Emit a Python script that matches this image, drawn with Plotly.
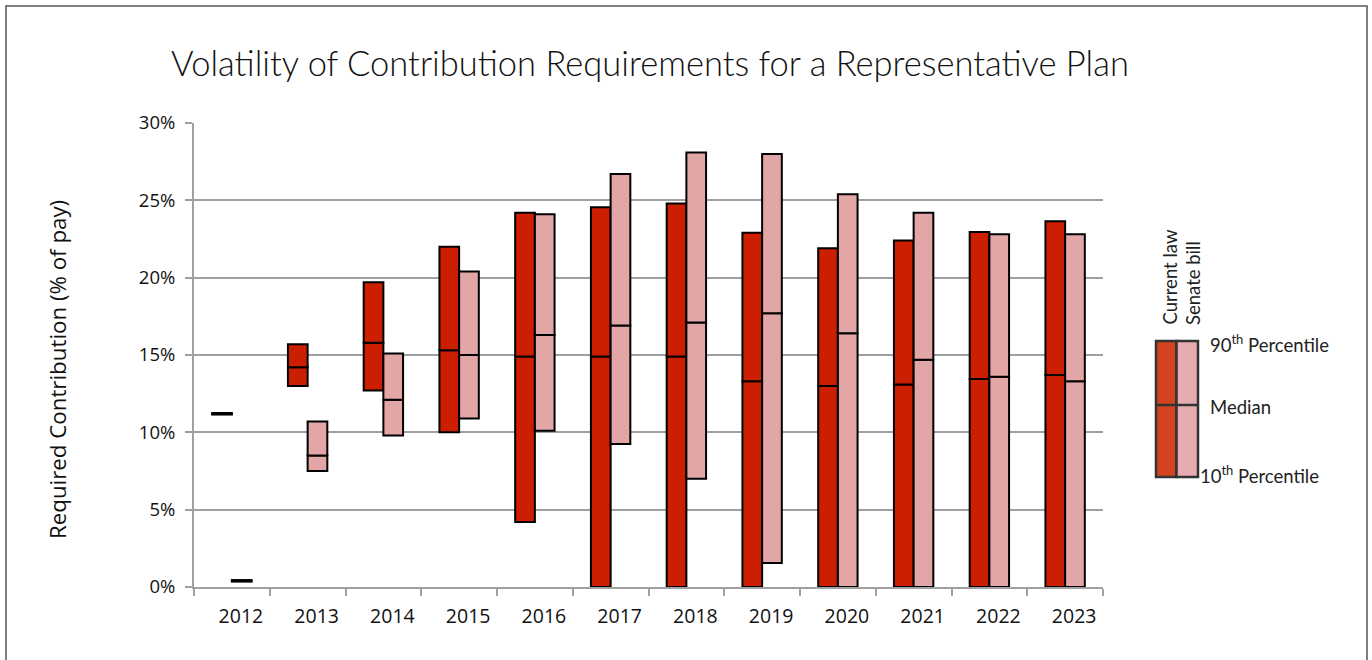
import plotly.graph_objects as go

years = ["2012", "2013", "2014", "2015", "2016", "2017", "2018", "2019", "2020", "2021", "2022", "2023"]

# Current law (percent of pay)
cl_p10 = [11.15, 13.0, 12.7, 10.0, 4.2, 0.0, 0.0, 0.0, 0.0, 0.0, 0.0, 0.0]
cl_med = [11.2, 14.2, 15.8, 15.3, 14.9, 14.9, 14.9, 13.3, 13.0, 13.1, 13.45, 13.7]
cl_p90 = [11.25, 15.7, 19.7, 22.0, 24.2, 24.55, 24.8, 22.9, 21.9, 22.4, 22.95, 23.65]

# Senate bill (percent of pay)
sb_p10 = [0.35, 7.5, 9.8, 10.9, 10.1, 9.25, 7.0, 1.55, 0.0, 0.0, 0.0, 0.0]
sb_med = [0.4, 8.5, 12.1, 15.0, 16.3, 16.9, 17.1, 17.7, 16.4, 14.7, 13.6, 13.3]
sb_p90 = [0.45, 10.7, 15.1, 20.4, 24.1, 26.7, 28.1, 28.0, 25.4, 24.2, 22.8, 22.8]

y_ticks = [0, 5, 10, 15, 20, 25, 30]
y_tick_labels = ["0%", "5%", "10%", "15%", "20%", "25%", "30%"]

RED = "#CC1E00"
PINK = "#E3A6A6"
LEG_RED = "#D4431F"
LEG_PINK = "#E6ACAF"

W, H = 1372, 660
L, R, T, B = 194, 1103, 123, 587


def px(x):
    return (x - L) / (R - L)


def py(y):
    return (B - y) / (B - T)


fig = go.Figure()


def add_series(p10, med, p90, color, group):
    fig.add_trace(go.Bar(
        x=years, y=[m - a for a, m in zip(p10, med)], base=p10,
        offsetgroup=group, marker=dict(color=color, line=dict(color="black", width=2)),
        showlegend=False, hoverinfo="skip"))
    fig.add_trace(go.Bar(
        x=years, y=[b - m for m, b in zip(med, p90)], base=med,
        offsetgroup=group, marker=dict(color=color, line=dict(color="black", width=2)),
        showlegend=False, hoverinfo="skip"))


add_series(cl_p10, cl_med, cl_p90, RED, "cl")
add_series(sb_p10, sb_med, sb_p90, PINK, "sb")

shapes = []
# outer frame
shapes.append(dict(type="rect", xref="paper", yref="paper",
                   x0=px(6), x1=px(1367), y0=py(672), y1=py(6),
                   line=dict(color="#555555", width=1.5), layer="below"))
# legend graphic
shapes.append(dict(type="rect", xref="paper", yref="paper",
                   x0=px(1156), x1=px(1176.5), y0=py(477), y1=py(341),
                   fillcolor=LEG_RED, line=dict(color="#333333", width=2.5)))
shapes.append(dict(type="rect", xref="paper", yref="paper",
                   x0=px(1176.5), x1=px(1198), y0=py(477), y1=py(341),
                   fillcolor=LEG_PINK, line=dict(color="#333333", width=2.5)))
shapes.append(dict(type="line", xref="paper", yref="paper",
                   x0=px(1156), x1=px(1198), y0=py(405), y1=py(405),
                   line=dict(color="#333333", width=2.5)))

legend_font = dict(family="Lato, sans-serif", size=18.5, color="#222222")
annotations = [
    dict(text="Volatility of Contribution Requirements for a Representative Plan",
         xref="paper", yref="paper", x=px(650), y=py(62), showarrow=False,
         xanchor="center", yanchor="middle",
         font=dict(family="Lato, sans-serif", size=34.5, color="#111111", weight=300)),
    dict(text="Required Contribution (% of pay)", xref="paper", yref="paper",
         x=px(57), y=py(370), showarrow=False, textangle=-90,
         xanchor="center", yanchor="middle",
         font=dict(family="Open Sans, sans-serif", size=22.3, color="#111111")),
    dict(text="Current law", xref="paper", yref="paper", x=px(1169), y=py(327),
         showarrow=False, textangle=-90, xanchor="center", yanchor="bottom",
         font=legend_font),
    dict(text="Senate bill", xref="paper", yref="paper", x=px(1193), y=py(327),
         showarrow=False, textangle=-90, xanchor="center", yanchor="bottom",
         font=legend_font),
    dict(text="90<sup>th</sup> Percentile", xref="paper", yref="paper", x=px(1208), y=py(343),
         showarrow=False, xanchor="left", yanchor="middle", font=legend_font),
    dict(text="Median", xref="paper", yref="paper", x=px(1208), y=py(407),
         showarrow=False, xanchor="left", yanchor="middle", font=legend_font),
    dict(text="10<sup>th</sup> Percentile", xref="paper", yref="paper", x=px(1198), y=py(474),
         showarrow=False, xanchor="left", yanchor="middle", font=legend_font),
]

fig.update_layout(
    width=W, height=H,
    margin=dict(l=L, r=W - R, t=T, b=H - B, pad=0),
    paper_bgcolor="white", plot_bgcolor="white",
    barmode="group", bargap=0.48, bargroupgap=0,
    shapes=shapes, annotations=annotations,
    font=dict(family="Open Sans, sans-serif", size=18, color="#111111"),
    showlegend=False,
)
fig.update_xaxes(
    type="category", categoryorder="array", categoryarray=years,
    showline=True, linecolor="#A0A0A0", linewidth=2,
    ticks="outside", tickson="boundaries", ticklen=7, tickwidth=2, tickcolor="#A0A0A0",
    showgrid=False, ticklabelshift=9, ticklabelstandoff=11,
    tickfont=dict(family="Open Sans, sans-serif", size=19.5, color="#111111"),
)
fig.update_yaxes(
    range=[0, 30], tickvals=y_ticks, ticktext=y_tick_labels,
    showline=True, linecolor="#A0A0A0", linewidth=2,
    ticks="outside", ticklen=7, tickwidth=2, tickcolor="#A0A0A0",
    showgrid=True, gridcolor="#A0A0A0", gridwidth=2, zeroline=False,
    ticklabelstandoff=6,
    tickfont=dict(family="Open Sans, sans-serif", size=18.5, color="#111111"),
)

fig.write_html("out.html", config={"displayModeBar": False},
               post_script="document.body.style.margin='0px';document.body.style.overflow='hidden';")
